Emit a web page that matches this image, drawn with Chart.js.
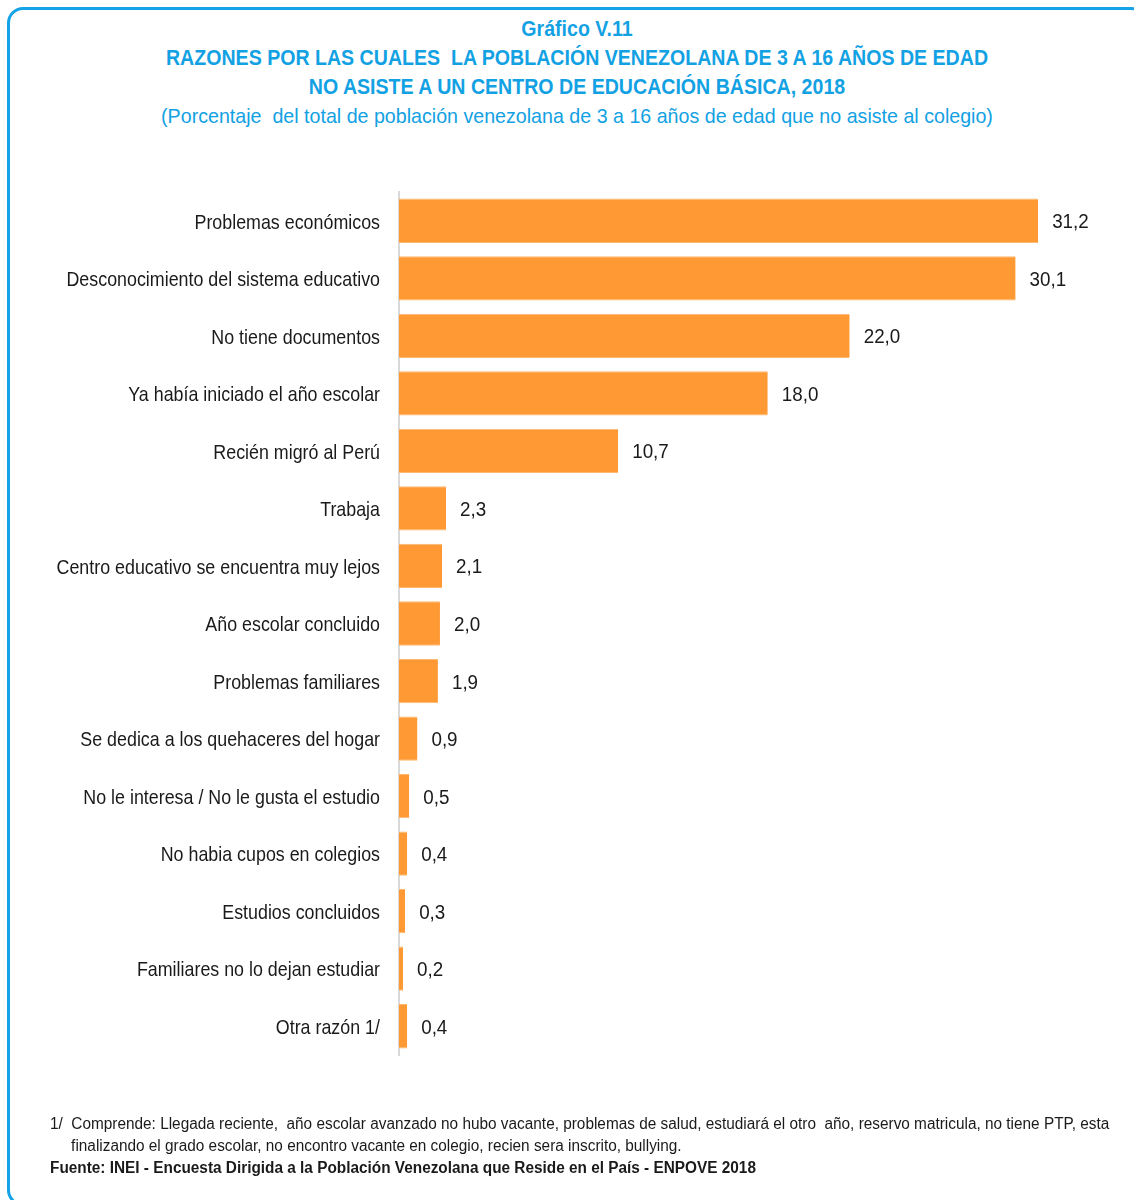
<!DOCTYPE html>
<html>
<head>
<meta charset="utf-8">
<script src="https://cdn.jsdelivr.net/npm/chart.js@4/dist/chart.umd.min.js"></script>
<style>
  html, body { margin: 0; padding: 0; background: #fff; }
  body { width: 1134px; height: 1200px; position: relative; overflow: hidden;
    font-family: "Liberation Sans", Arial, sans-serif; }
  .frame { position: absolute; left: 7px; top: 7px; width: 1140px; height: 1199px;
    border: 3px solid #13a3e6; border-radius: 16px; box-sizing: border-box; }
  .titles { position: absolute; left: 7px; width: 1140px; top: 14px; color: #12a1e3; }
  .titles div { text-align: center; white-space: nowrap; }
  .titles .t { font-weight: bold; font-size: 22px; line-height: 29px; transform: scaleX(0.89); }
  .titles .s { font-size: 21px; line-height: 29px; transform: scaleX(0.935); }
  .notes { position: absolute; left: 50px; top: 1113px; font-size: 16px; line-height: 22px; color: #1a1a1a; }
  .notes div { white-space: nowrap; transform: scaleX(0.96); transform-origin: 0 0; }
  .notes .ind { padding-left: 22px; }
  #wrap { position: absolute; left: 0; top: 0; width: 1134px; height: 1200px; }
</style>
</head>
<body>
<div class="frame"></div>
<div class="titles">
  <div class="t">Gráfico V.11</div>
  <div class="t">RAZONES POR LAS CUALES&nbsp; LA POBLACIÓN VENEZOLANA DE 3 A 16 AÑOS DE EDAD</div>
  <div class="t">NO ASISTE A UN CENTRO DE EDUCACIÓN BÁSICA, 2018</div>
  <div class="s">(Porcentaje&nbsp; del total de población venezolana de 3 a 16 años de edad que no asiste al colegio)</div>
</div>
<div id="wrap"><canvas id="chart"></canvas></div>
<div class="notes">
  <div>1/&nbsp; Comprende: Llegada reciente,&nbsp; año escolar avanzado no hubo vacante, problemas de salud, estudiará el otro&nbsp; año, reservo matricula, no tiene PTP, esta</div>
  <div class="ind">finalizando el grado escolar, no encontro vacante en colegio, recien sera inscrito, bullying.</div>
  <div><b>Fuente: INEI - Encuesta Dirigida a la Población Venezolana que Reside en el País - ENPOVE 2018</b></div>
</div>
<script>
const FONT = '"Liberation Sans", Arial, sans-serif';
const LABEL_SQUEEZE = 0.85;

const reasons = [
  'Problemas económicos',
  'Desconocimiento del sistema educativo',
  'No tiene documentos',
  'Ya había iniciado el año escolar',
  'Recién migró al Perú',
  'Trabaja',
  'Centro educativo se encuentra muy lejos',
  'Año escolar concluido',
  'Problemas familiares',
  'Se dedica a los quehaceres del hogar',
  'No le interesa / No le gusta el estudio',
  'No habia cupos en colegios',
  'Estudios concluidos',
  'Familiares no lo dejan estudiar',
  'Otra razón 1/'
];
const percentages = [31.2, 30.1, 22.0, 18.0, 10.7, 2.3, 2.1, 2.0, 1.9, 0.9, 0.5, 0.4, 0.3, 0.2, 0.4];

const formatValue = (value) => value.toFixed(1).replace('.', ',');

// category names in a narrow face: drawn at the y axis tick positions, squeezed horizontally
const narrowLabels = {
  id: 'narrowLabels',
  afterDraw(chart) {
    const {ctx} = chart;
    const yScale = chart.scales.y;
    const right = yScale.right - 19;
    ctx.save();
    ctx.font = '21px ' + FONT;
    ctx.fillStyle = '#1a1a1a';
    ctx.textBaseline = 'middle';
    ctx.textAlign = 'right';
    yScale.ticks.forEach((tick, i) => {
      const y = yScale.getPixelForTick(i);
      ctx.save();
      ctx.translate(right, y + 2);
      ctx.scale(LABEL_SQUEEZE, 1);
      ctx.fillText(yScale.getLabelForValue(tick.value), 0, 0);
      ctx.restore();
    });
    ctx.restore();
  }
};

const valueLabels = {
  id: 'valueLabels',
  afterDatasetsDraw(chart) {
    const {ctx} = chart;
    const meta = chart.getDatasetMeta(0);
    ctx.save();
    ctx.font = '20px ' + FONT;
    ctx.fillStyle = '#1a1a1a';
    ctx.textBaseline = 'middle';
    ctx.textAlign = 'left';
    meta.data.forEach((bar, i) => {
      ctx.save();
      ctx.translate(bar.x + 14, bar.y + 2);
      ctx.scale(0.94, 1);
      ctx.fillText(formatValue(percentages[i]), 0, 0);
      ctx.restore();
    });
    ctx.restore();
  }
};

new Chart(document.getElementById('chart'), {
  type: 'bar',
  data: {
    labels: reasons,
    datasets: [{
      data: percentages,
      backgroundColor: '#ff9933',
      borderColor: '#ffb870',
      borderWidth: {top: 1, bottom: 1, left: 0, right: 0},
      borderSkipped: false,
      barPercentage: 0.77,
      categoryPercentage: 1
    }]
  },
  options: {
    indexAxis: 'y',
    responsive: true,
    maintainAspectRatio: false,
    animation: false,
    layout: {padding: {top: 192, bottom: 145, right: 18, left: 0}},
    plugins: {legend: {display: false}, tooltip: {enabled: false}},
    scales: {
      x: {display: false, min: 0, max: 35},
      y: {
        afterFit(scale) { scale.width = 399; },
        grid: {display: false, drawTicks: false},
        border: {display: true, color: '#d9d9d9', width: 2},
        ticks: {display: false}
      }
    }
  },
  plugins: [valueLabels, narrowLabels]
});
</script>
</body>
</html>
